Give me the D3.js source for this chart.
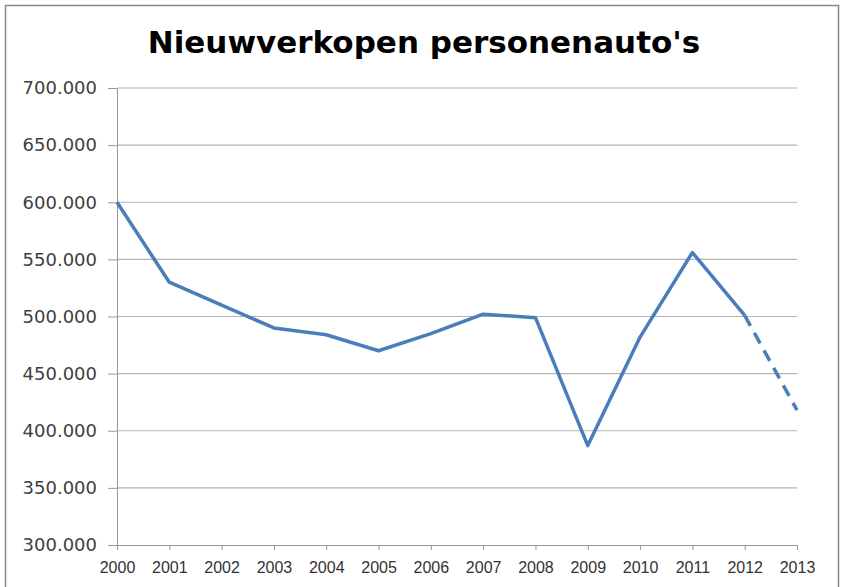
<!DOCTYPE html>
<html>
<head>
<meta charset="utf-8">
<script src="https://cdn.jsdelivr.net/npm/d3@7"></script>
<style>
  body { margin: 0; background: #fff; }
  svg { display: block; }
</style>
</head>
<body>
<div id="chart"></div>
<script>
// Data
const years = [2000, 2001, 2002, 2003, 2004, 2005, 2006, 2007, 2008, 2009, 2010, 2011, 2012, 2013];
const sales = [600000, 530000, 510000, 490000, 484000, 470000, 485000, 502000, 499000, 387000, 482000, 556000, 501000, 418000];
const yTicks = [300000, 350000, 400000, 450000, 500000, 550000, 600000, 650000, 700000];
const lastActualYear = 2012; // dashed after this

const W = 841, H = 587;
const margin = { top: 88, right: 44, bottom: 42, left: 117 };
const width = W - margin.left - margin.right;
const height = H - margin.top - margin.bottom;

const svg = d3.select("#chart").append("svg")
  .attr("width", W).attr("height", H);

// outer frame
svg.append("rect")
  .attr("x", 5.5).attr("y", 5.5)
  .attr("width", W - 8).attr("height", H)
  .attr("fill", "#fff").attr("stroke", "#888").attr("stroke-width", 1.5);

svg.append("text")
  .attr("x", 424).attr("y", 53)
  .attr("text-anchor", "middle")
  .style("font-family", "'DejaVu Sans', Verdana, sans-serif")
  .style("font-weight", "bold")
  .style("font-size", "31px")
  .text("Nieuwverkopen personenauto's");

const g = svg.append("g").attr("transform", `translate(${margin.left},${margin.top})`);

const x = d3.scaleLinear().domain([2000, 2013]).range([0, width]);
const y = d3.scaleLinear().domain([300000, 700000]).range([height, 0]);

const fmt = d => d3.format(",.0f")(d).replace(/,/g, ".");

// gridlines
g.append("g").selectAll("line").data(yTicks.filter(t => t > 300000)).join("line")
  .attr("x1", 0).attr("x2", width)
  .attr("y1", d => y(d)).attr("y2", d => y(d))
  .attr("stroke", "#b3b3b3").attr("stroke-width", 1.2);

// y axis
const yAxis = g.append("g")
  .call(d3.axisLeft(y).tickValues(yTicks).tickFormat(fmt).tickSize(9).tickPadding(11));
yAxis.select(".domain").attr("stroke", "#999");
yAxis.selectAll(".tick line").attr("stroke", "#999");
yAxis.selectAll("text")
  .attr("fill", "#404040")
  .style("font-family", "'DejaVu Sans', Verdana, sans-serif")
  .style("font-size", "18px");

// x axis
const xAxis = g.append("g").attr("transform", `translate(0,${height})`)
  .call(d3.axisBottom(x).tickValues(years).tickFormat(d3.format("d")).tickSize(5).tickPadding(12));
xAxis.select(".domain").attr("stroke", "#999");
xAxis.selectAll(".tick line").attr("stroke", "#999");
xAxis.selectAll("text")
  .attr("fill", "#333")
  .style("font-family", "'Liberation Sans', Arial, sans-serif")
  .style("font-size", "16px");

const pts = years.map((yr, i) => ({ yr, v: sales[i] }));
const line = d3.line().x(d => x(d.yr)).y(d => y(d.v));

g.append("path")
  .datum(pts.filter(d => d.yr <= lastActualYear))
  .attr("d", line)
  .attr("fill", "none").attr("stroke", "#4a7ebb")
  .attr("stroke-width", 3.5).attr("stroke-linejoin", "round");

g.append("path")
  .datum(pts.filter(d => d.yr >= lastActualYear))
  .attr("d", line)
  .attr("fill", "none").attr("stroke", "#4a7ebb")
  .attr("stroke-width", 3.5)
  .attr("stroke-dasharray", "12,8");
</script>
</body>
</html>
